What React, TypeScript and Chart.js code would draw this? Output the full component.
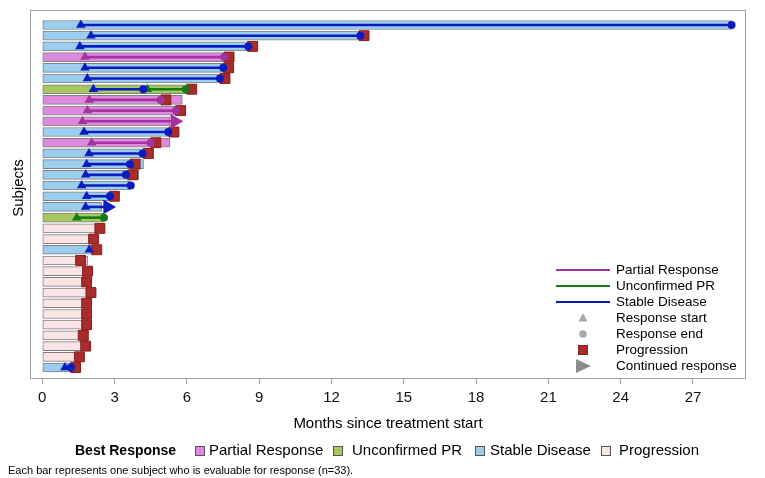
import React, { useEffect, useRef } from "react";
import { Chart, registerables } from "chart.js";

Chart.register(...registerables);

// ---------- data ----------
const rowNumbers = Array.from({ length: 33 }, (_, i) => i + 1);
const bestResponse = [
  "SD", "SD", "SD", "PR", "SD", "SD", "UPR", "PR", "PR", "PR", "SD",
  "PR", "SD", "SD", "SD", "SD", "SD", "SD", "UPR", "PD", "PD", "SD",
  "PD", "PD", "PD", "PD", "PD", "PD", "PD", "PD", "PD", "PD", "SD",
];
const barEnd = [
  28.6, 13.5, 8.94, 7.95, 7.94, 7.76, 6.38, 5.81, 5.95, 5.3, 5.67,
  5.3, 4.61, 4.2, 4.0, 3.64, 3.2, 2.46, 2.53, 2.6, 2.3, 2.43,
  1.88, 2.08, 2.05, 2.21, 2.05, 2.05, 2.05, 1.91, 2.0, 1.73, 1.56,
];

// response segments (line from start to end)
const segRow = [1, 2, 3, 4, 5, 6, 7, 7, 8, 9, 10, 11, 12, 13, 14, 15, 16, 17, 18, 19, 33];
const segType = ["SD", "SD", "SD", "PR", "SD", "SD", "SD", "UPR", "PR", "PR", "PR", "SD", "PR", "SD", "SD", "SD", "SD", "SD", "SD", "UPR", "SD"];
const segStart = [1.6, 2.02, 1.56, 1.77, 1.77, 1.87, 2.12, 4.36, 1.95, 1.87, 1.67, 1.73, 2.05, 1.94, 1.84, 1.8, 1.63, 1.84, 1.8, 1.43, 0.94];
const segEnd = [28.6, 13.2, 8.55, 7.55, 7.51, 7.37, 4.19, 5.96, 4.91, 5.55, 5.5, 5.23, 4.5, 4.16, 3.64, 3.47, 3.67, 2.81, 2.71, 2.56, 1.19];

// response start markers
const startRow = [1, 2, 3, 4, 5, 6, 7, 7, 8, 9, 10, 11, 12, 13, 14, 15, 16, 17, 18, 19, 22, 33];
const startType = ["SD", "SD", "SD", "PR", "SD", "SD", "SD", "UPR", "PR", "PR", "PR", "SD", "PR", "SD", "SD", "SD", "SD", "SD", "SD", "UPR", "SD", "SD"];
const startX = [1.6, 2.02, 1.56, 1.77, 1.77, 1.87, 2.12, 4.36, 1.95, 1.87, 1.67, 1.73, 2.05, 1.94, 1.84, 1.8, 1.63, 1.84, 1.8, 1.43, 1.95, 0.94];

// response end markers
const endRow = [1, 2, 3, 4, 5, 6, 7, 7, 8, 9, 11, 12, 13, 14, 15, 16, 17, 19, 33];
const endType = ["SD", "SD", "SD", "PR", "SD", "SD", "SD", "UPR", "PR", "PR", "SD", "PR", "SD", "SD", "SD", "SD", "SD", "UPR", "SD"];
const endX = [28.6, 13.2, 8.55, 7.55, 7.51, 7.37, 4.19, 5.96, 4.91, 5.55, 5.23, 4.5, 4.16, 3.64, 3.47, 3.67, 2.81, 2.56, 1.19];

// progression markers
const progRow = [2, 3, 4, 5, 6, 7, 8, 9, 11, 12, 13, 14, 15, 17, 20, 21, 22, 23, 24, 25, 26, 27, 28, 29, 30, 31, 32, 33];
const progX = [13.35, 8.73, 7.75, 7.73, 7.58, 6.2, 5.13, 5.74, 5.46, 4.71, 4.4, 3.85, 3.75, 2.99, 2.39, 2.13, 2.26, 1.59, 1.88, 1.84, 2.02, 1.84, 1.84, 1.84, 1.7, 1.8, 1.54, 1.38];

// continued response arrows
const arrowRow = [10, 18];
const arrowType = ["PR", "SD"];
const arrowX = [5.5, 2.71];

const xTicks = [0, 3, 6, 9, 12, 15, 18, 21, 24, 27];

const legendTypes = ["PR", "UPR", "SD", "PD"];
const legendLabels = ["Partial Response", "Unconfirmed PR", "Stable Disease", "Progression"];
const lineLegendLabels = ["Partial Response", "Unconfirmed PR", "Stable Disease"];
const markerLegendLabels = ["Response start", "Response end", "Progression", "Continued response"];

// ---------- styles ----------
const FONT = "'Liberation Sans', Arial, sans-serif";
const barFill: Record<string, string> = {
  PR: "#DD8ADC",
  UPR: "#A6C85C",
  SD: "#9DCDEE",
  PD: "#FBE4E4",
};
const lineColor: Record<string, string> = {
  PR: "#A3339F",
  UPR: "#167A18",
  SD: "#0A1CC0",
};
const PROG_FILL = "#A82C2C";
const PROG_BORDER = "#8A1E1E";
const FRAME = "#A3A3A3";

const overlayPlugin = {
  id: "overlay",
  afterDatasetsDraw(chart: any) {
    const ctx = chart.ctx as CanvasRenderingContext2D;
    const a = chart.chartArea;
    ctx.save();
    // frame
    ctx.strokeStyle = FRAME;
    ctx.lineWidth = 1;
    ctx.strokeRect(a.left + 0.5, a.top + 0.5, a.right - a.left - 1, a.bottom - a.top);

    // inset legend
    const lx0 = 556, lx1 = 610, tx = 616, mx = 583;
    const rowsY = [270, 286, 302, 318, 334, 350, 366];
    ctx.font = `13.5px ${FONT}`;
    ctx.textBaseline = "middle";
    ctx.textAlign = "left";
    const lineTypes = ["PR", "UPR", "SD"];
    lineTypes.forEach((t, i) => {
      ctx.strokeStyle = lineColor[t];
      ctx.lineWidth = 2;
      ctx.beginPath();
      ctx.moveTo(lx0, rowsY[i]);
      ctx.lineTo(lx1, rowsY[i]);
      ctx.stroke();
      ctx.fillStyle = "#000";
      ctx.fillText(lineLegendLabels[i], tx, rowsY[i]);
    });
    // markers
    const grey = "#A8A8A8";
    let y = rowsY[3];
    ctx.fillStyle = grey;
    ctx.beginPath();
    ctx.moveTo(mx, y - 5);
    ctx.lineTo(mx + 4.5, y + 3.5);
    ctx.lineTo(mx - 4.5, y + 3.5);
    ctx.closePath();
    ctx.fill();
    y = rowsY[4];
    ctx.beginPath();
    ctx.arc(mx, y, 3.8, 0, Math.PI * 2);
    ctx.fill();
    y = rowsY[5];
    ctx.fillStyle = PROG_FILL;
    ctx.fillRect(mx - 5, y - 5, 10, 10);
    ctx.strokeStyle = PROG_BORDER;
    ctx.lineWidth = 1;
    ctx.strokeRect(mx - 5 + 0.5, y - 5 + 0.5, 9, 9);
    y = rowsY[6];
    ctx.fillStyle = "#8C8C8C";
    ctx.beginPath();
    ctx.moveTo(mx - 7, y - 7);
    ctx.lineTo(mx + 8, y);
    ctx.lineTo(mx - 7, y + 7);
    ctx.closePath();
    ctx.fill();
    markerLegendLabels.forEach((lab, i) => {
      ctx.fillStyle = "#000";
      ctx.fillText(lab, tx, rowsY[3 + i]);
    });
    ctx.restore();
  },
  afterDraw(chart: any) {
    const ctx = chart.ctx as CanvasRenderingContext2D;
    ctx.save();
    ctx.fillStyle = "#000";
    ctx.textBaseline = "middle";
    ctx.font = `15px ${FONT}`;
    ctx.textAlign = "center";
    ctx.fillText("Months since treatment start", 388, 424);
    ctx.save();
    ctx.translate(18.5, 188);
    ctx.rotate(-Math.PI / 2);
    ctx.font = `15px ${FONT}`;
    ctx.fillText("Subjects", 0, 0);
    ctx.restore();
    ctx.textAlign = "left";
    ctx.font = `bold 14px ${FONT}`;
    ctx.fillText("Best Response", 75, 451);
    const swatchX = [200, 338, 480, 606];
    const textX = [209, 352, 490, 619];
    ctx.font = `15px ${FONT}`;
    legendTypes.forEach((t, i) => {
      ctx.fillStyle = barFill[t];
      ctx.fillRect(swatchX[i] - 4.5, 446.5, 9, 9);
      ctx.strokeStyle = "#555";
      ctx.lineWidth = 1;
      ctx.strokeRect(swatchX[i] - 4.5, 446.5, 9, 9);
      ctx.fillStyle = "#000";
      ctx.fillText(legendLabels[i], textX[i], 451);
    });
    ctx.font = `11px ${FONT}`;
    ctx.fillText("Each bar represents one subject who is evaluable for response (n=33).", 8, 471);
    ctx.restore();
  },
};

export default function App() {
  const ref = useRef<HTMLCanvasElement | null>(null);

  useEffect(() => {
    document.body.style.margin = "0";
    const canvas = ref.current;
    if (!canvas) return;

    const datasets: any[] = [];

    datasets.push({
      type: "bar",
      indexAxis: "y",
      data: rowNumbers.map((r, i) => ({ y: r, x: [0, barEnd[i]] })),
      backgroundColor: bestResponse.map((t) => barFill[t]),
      borderColor: "#7C8084",
      borderWidth: 1,
      borderSkipped: false,
      barThickness: 9,
      order: 10,
    });

    datasets.push({
      type: "scatter",
      data: progRow.map((r, i) => ({ x: progX[i], y: r })),
      pointStyle: "rect",
      pointRadius: 7,
      backgroundColor: PROG_FILL,
      borderColor: PROG_BORDER,
      borderWidth: 1,
      order: 8,
    });

    segRow.forEach((r, i) => {
      datasets.push({
        type: "line",
        data: [
          { x: segStart[i], y: r },
          { x: segEnd[i], y: r },
        ],
        borderColor: lineColor[segType[i]],
        borderWidth: 2.6,
        pointRadius: 0,
        fill: false,
        order: 6,
      });
    });

    datasets.push({
      type: "scatter",
      data: startRow.map((r, i) => ({ x: startX[i], y: r })),
      pointStyle: "triangle",
      pointRadius: 5.5,
      backgroundColor: startType.map((t) => lineColor[t]),
      borderColor: startType.map((t) => lineColor[t]),
      borderWidth: 0,
      order: 4,
    });

    datasets.push({
      type: "scatter",
      data: arrowRow.map((r, i) => ({ x: arrowX[i], y: r })),
      pointStyle: "triangle",
      rotation: 90,
      pointRotation: 90,
      pointRadius: 8.5,
      backgroundColor: arrowType.map((t) => lineColor[t]),
      borderColor: arrowType.map((t) => lineColor[t]),
      borderWidth: 0,
      order: 3,
    });

    datasets.push({
      type: "scatter",
      data: endRow.map((r, i) => ({ x: endX[i], y: r })),
      pointStyle: "circle",
      pointRadius: 4,
      backgroundColor: endType.map((t) => lineColor[t]),
      borderColor: endType.map((t) => lineColor[t]),
      borderWidth: 0,
      order: 2,
    });

    const chart = new Chart(canvas, {
      type: "bar",
      data: { datasets },
      plugins: [overlayPlugin],
      options: {
        animation: false,
        responsive: false,
        devicePixelRatio: 1,
        layout: { padding: { left: 30, right: 19, top: 10, bottom: 0 } },
        plugins: { legend: { display: false }, tooltip: { enabled: false } },
        scales: {
          x: {
            type: "linear",
            position: "bottom",
            offset: false,
            min: -0.51,
            max: 29.2,
            afterBuildTicks: (scale: any) => {
              scale.ticks = xTicks.map((v) => ({ value: v }));
            },
            afterFit: (scale: any) => {
              scale.height = 100;
            },
            grid: {
              display: true,
              offset: false,
              drawOnChartArea: false,
              drawTicks: true,
              tickLength: 6,
              color: FRAME,
            },
            border: { display: false },
            ticks: {
              padding: 5,
              color: "#111",
              font: { family: FONT, size: 15 },
              maxRotation: 0,
              autoSkip: false,
            },
          },
          y: {
            type: "linear",
            reverse: true,
            offset: false,
            min: -0.4,
            max: 33.98,
            display: false,
            grid: { offset: false },
          },
        },
      } as any,
    });

    return () => chart.destroy();
  }, []);

  return (
    <div style={{ width: 765, height: 478 }}>
      <canvas ref={ref} width={765} height={478} style={{ display: "block", width: 765, height: 478 }} />
    </div>
  );
}
